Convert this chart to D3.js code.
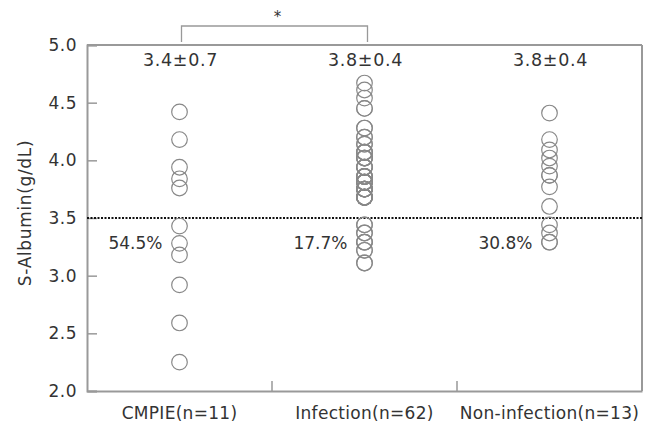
<!DOCTYPE html>
<html>
<head>
<meta charset="utf-8">
<script src="https://cdn.jsdelivr.net/npm/d3@7"></script>
<style>
  body { margin: 0; background: #fff; }
  svg { display: block; }
  text { font-family: "DejaVu Sans", sans-serif; fill: #333; }
</style>
</head>
<body>
<svg id="chart" width="653" height="428"></svg>
<script>
// ---- data ----
const categories = ["CMPIE(n=11)", "Infection(n=62)", "Non-infection(n=13)"];
const cmpieValues = [4.42, 4.18, 3.94, 3.84, 3.76, 3.43, 3.28, 3.18, 2.92, 2.59, 2.25];
const infectionValues = [
  4.67, 4.61, 4.54, 4.45, 4.45, 4.28, 4.28, 4.20, 4.20, 4.14, 4.14,
  4.07, 4.07, 4.07, 4.07, 4.02, 4.02, 4.02, 4.02, 3.94, 3.94, 3.94, 3.94,
  3.86, 3.86, 3.86, 3.86, 3.86, 3.81, 3.81, 3.81, 3.81, 3.81, 3.81,
  3.75, 3.75, 3.75, 3.75, 3.75, 3.75, 3.75,
  3.68, 3.68, 3.68, 3.68, 3.68, 3.68, 3.68, 3.68, 3.68, 3.68,
  3.44, 3.44, 3.37, 3.37, 3.29, 3.29, 3.29, 3.22, 3.22, 3.11, 3.11
];
const nonInfectionValues = [4.41, 4.18, 4.09, 4.02, 3.95, 3.87, 3.87, 3.77, 3.60, 3.44, 3.37, 3.29, 3.29];
const meanLabels = ["3.4\u00B10.7", "3.8\u00B10.4", "3.8\u00B10.4"];
const belowLabels = ["54.5%", "17.7%", "30.8%"];
const yTicks = [2.0, 2.5, 3.0, 3.5, 4.0, 4.5, 5.0];
const cutoff = 3.5;
const yTitle = "S-Albumin(g/dL)";
const sigPair = ["CMPIE(n=11)", "Infection(n=62)"];
const sigMark = "*";

const groups = [cmpieValues, infectionValues, nonInfectionValues];

// ---- layout ----
const svg = d3.select("#chart");
const mLeft = 87, mRight = 642, mTop = 45, mBottom = 391;
const x = d3.scaleBand().domain(categories).range([mLeft, mRight]).padding(0);
const y = d3.scaleLinear().domain([2, 5]).range([mBottom, mTop]);
const axisColor = "#999";
const cx = c => x(c) + x.bandwidth() / 2;

// y axis
const yAxis = d3.axisLeft(y).tickValues(yTicks).tickFormat(d3.format(".1f"))
  .tickSize(-10).tickPadding(10);
const gy = svg.append("g").attr("transform", `translate(${mLeft},0)`).call(yAxis);
gy.select(".domain").attr("stroke", axisColor).attr("stroke-width", 2);
gy.selectAll(".tick line").attr("stroke", axisColor).attr("stroke-width", 1.5);
gy.selectAll(".tick text").style("font-size", "17px").style("letter-spacing", "0.5px").attr("fill", "#333");

// x axis (labels)
const xAxis = d3.axisBottom(x).tickSize(0).tickPadding(16);
const gx = svg.append("g").attr("transform", `translate(0,${mBottom})`).call(xAxis);
gx.select(".domain").attr("stroke", axisColor).attr("stroke-width", 2);
gx.selectAll(".tick text").style("font-size", "17px").style("letter-spacing", "0.3px").attr("fill", "#333");

// boundary ticks (upward)
svg.append("g").selectAll("line")
  .data(categories.slice(0, -1))
  .join("line")
  .attr("x1", d => x(d) + x.bandwidth()).attr("x2", d => x(d) + x.bandwidth())
  .attr("y1", mBottom).attr("y2", mBottom - 10)
  .attr("stroke", axisColor).attr("stroke-width", 1.5);

// top & right frame
svg.append("line").attr("x1", mLeft).attr("x2", mRight).attr("y1", y(5)).attr("y2", y(5))
  .attr("stroke", axisColor).attr("stroke-width", 2);
svg.append("line").attr("x1", mRight).attr("x2", mRight).attr("y1", y(5)).attr("y2", y(2))
  .attr("stroke", axisColor).attr("stroke-width", 2);

// cutoff dotted line
svg.append("line").attr("x1", mLeft).attr("x2", mRight).attr("y1", y(cutoff)).attr("y2", y(cutoff))
  .attr("stroke", "#111").attr("stroke-width", 2).attr("stroke-dasharray", "2,1.5");

// points
categories.forEach((c, i) => {
  svg.append("g").selectAll("circle")
    .data(groups[i])
    .join("circle")
    .attr("cx", cx(c))
    .attr("cy", d => y(d))
    .attr("r", 7.8)
    .attr("fill", "none")
    .attr("stroke", "#888")
    .attr("stroke-width", 1.2);
});

// mean labels
svg.append("g").selectAll("text")
  .data(categories)
  .join("text")
  .attr("x", d => cx(d) + 1)
  .attr("y", 66)
  .attr("text-anchor", "middle")
  .style("font-size", "17.5px")
  .style("letter-spacing", "0.7px")
  .text((d, i) => meanLabels[i]);

// below-cutoff percent labels
svg.append("g").selectAll("text")
  .data(categories)
  .join("text")
  .attr("x", d => cx(d) - 17)
  .attr("y", 249)
  .attr("text-anchor", "end")
  .style("font-size", "17px")
  .text((d, i) => belowLabels[i]);

// y title
svg.append("text")
  .attr("transform", `translate(31,${(mTop + mBottom) / 2 - 5}) rotate(-90)`)
  .attr("text-anchor", "middle")
  .style("font-size", "17px")
  .style("letter-spacing", "0.65px")
  .text(yTitle);

// significance bracket
const bx1 = cx(sigPair[0]) + 2, bx2 = cx(sigPair[1]) + 3;
svg.append("path")
  .attr("d", `M${bx1},${mTop - 3}V26H${bx2}V${mTop - 3}`)
  .attr("fill", "none").attr("stroke", axisColor).attr("stroke-width", 1.3);
svg.append("text")
  .attr("x", (bx1 + bx2) / 2 + 3).attr("y", 22)
  .attr("text-anchor", "middle")
  .style("font-size", "15px")
  .text(sigMark);
</script>
</body>
</html>
